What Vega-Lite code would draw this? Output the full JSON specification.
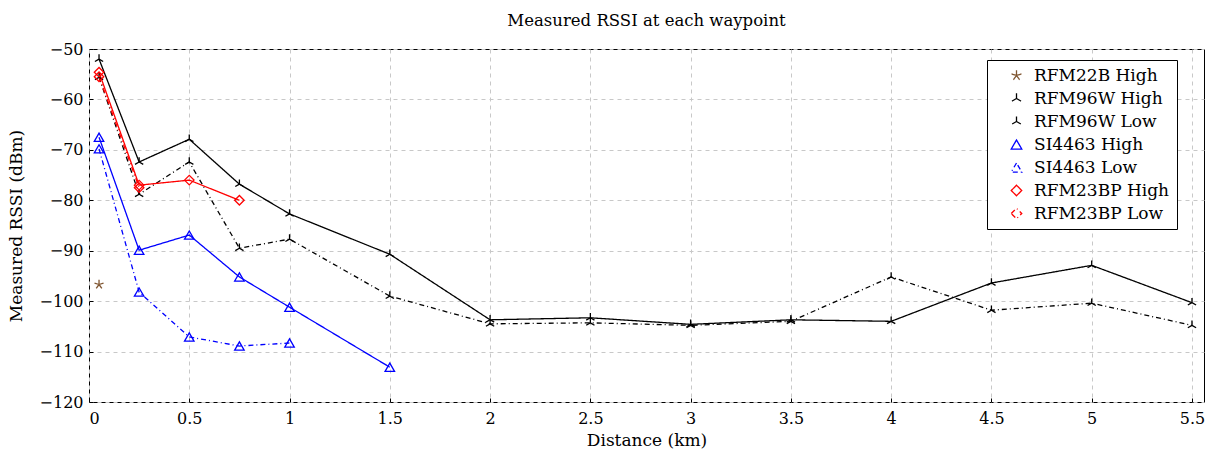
{
  "$schema": "https://vega.github.io/schema/vega-lite/v6.json",
  "width": 1115,
  "height": 353,
  "autosize": {"type": "none"},
  "padding": {"left": 89, "top": 49, "right": 1, "bottom": 48},
  "title": {"text": "Measured RSSI at each waypoint", "font": "DejaVu Serif", "fontSize": 16.5, "fontWeight": "normal", "color": "black", "offset": 12, "anchor": "middle"},
  "config": {
    "view": {"stroke": "black", "strokeWidth": 1},
    "font": "DejaVu Serif",
    "axis": {
      "labelFont": "DejaVu Serif", "titleFont": "DejaVu Serif",
      "labelFontSize": 16, "titleFontSize": 17, "titleFontWeight": "normal",
      "labelColor": "black", "titleColor": "black",
      "grid": true, "gridDash": [4, 4], "gridColor": "#c8c8c8", "gridWidth": 1,
      "domain": false, "tickColor": "black", "tickSize": -4
    }
  },
  "data": {"values": [
    {"series": "RFM22B High", "d": 0.05, "rssi": -96.7},
    {"series": "RFM96W High", "d": 0.05, "rssi": -52},
    {"series": "RFM96W High", "d": 0.25, "rssi": -72.4},
    {"series": "RFM96W High", "d": 0.5, "rssi": -67.9},
    {"series": "RFM96W High", "d": 0.75, "rssi": -76.8},
    {"series": "RFM96W High", "d": 1, "rssi": -82.7},
    {"series": "RFM96W High", "d": 1.5, "rssi": -90.7},
    {"series": "RFM96W High", "d": 2, "rssi": -103.7},
    {"series": "RFM96W High", "d": 2.5, "rssi": -103.3},
    {"series": "RFM96W High", "d": 3, "rssi": -104.6},
    {"series": "RFM96W High", "d": 3.5, "rssi": -103.7},
    {"series": "RFM96W High", "d": 4, "rssi": -104},
    {"series": "RFM96W High", "d": 4.5, "rssi": -96.4},
    {"series": "RFM96W High", "d": 5, "rssi": -92.9},
    {"series": "RFM96W High", "d": 5.5, "rssi": -100.3},
    {"series": "RFM96W Low", "d": 0.05, "rssi": -55.6},
    {"series": "RFM96W Low", "d": 0.25, "rssi": -78.8},
    {"series": "RFM96W Low", "d": 0.5, "rssi": -72.4},
    {"series": "RFM96W Low", "d": 0.75, "rssi": -89.5},
    {"series": "RFM96W Low", "d": 1, "rssi": -87.7},
    {"series": "RFM96W Low", "d": 1.5, "rssi": -99},
    {"series": "RFM96W Low", "d": 2, "rssi": -104.5},
    {"series": "RFM96W Low", "d": 2.5, "rssi": -104.3},
    {"series": "RFM96W Low", "d": 3, "rssi": -104.8},
    {"series": "RFM96W Low", "d": 3.5, "rssi": -104},
    {"series": "RFM96W Low", "d": 4, "rssi": -95.2},
    {"series": "RFM96W Low", "d": 4.5, "rssi": -101.8},
    {"series": "RFM96W Low", "d": 5, "rssi": -100.4},
    {"series": "RFM96W Low", "d": 5.5, "rssi": -104.8},
    {"series": "SI4463 High", "d": 0.05, "rssi": -67.5},
    {"series": "SI4463 High", "d": 0.25, "rssi": -89.9},
    {"series": "SI4463 High", "d": 0.5, "rssi": -86.9},
    {"series": "SI4463 High", "d": 0.75, "rssi": -95.2},
    {"series": "SI4463 High", "d": 1, "rssi": -101.2},
    {"series": "SI4463 High", "d": 1.5, "rssi": -113.1},
    {"series": "SI4463 Low", "d": 0.05, "rssi": -69.8},
    {"series": "SI4463 Low", "d": 0.25, "rssi": -98.2},
    {"series": "SI4463 Low", "d": 0.5, "rssi": -107.1},
    {"series": "SI4463 Low", "d": 0.75, "rssi": -108.9},
    {"series": "SI4463 Low", "d": 1, "rssi": -108.3},
    {"series": "RFM23BP High", "d": 0.05, "rssi": -54.6},
    {"series": "RFM23BP High", "d": 0.25, "rssi": -77},
    {"series": "RFM23BP High", "d": 0.5, "rssi": -76},
    {"series": "RFM23BP High", "d": 0.75, "rssi": -80},
    {"series": "RFM23BP Low", "d": 0.05, "rssi": -55.5},
    {"series": "RFM23BP Low", "d": 0.25, "rssi": -77.5}
  ]},
  "encoding": {
    "x": {"field": "d", "type": "quantitative", "title": "Distance (km)",
      "scale": {"domain": [0, 5.56], "nice": false, "zero": false},
      "axis": {"values": [0, 0.5, 1, 1.5, 2, 2.5, 3, 3.5, 4, 4.5, 5, 5.5], "format": "~g", "labelPadding": 12, "titlePadding": 6}},
    "y": {"field": "rssi", "type": "quantitative", "title": "Measured RSSI (dBm)",
      "scale": {"domain": [-120, -50], "nice": false, "zero": false},
      "axis": {"values": [-120, -110, -100, -90, -80, -70, -60, -50], "labelPadding": 10, "titlePadding": 14}}
  },
  "layer": [
    {
      "mark": {"type": "line", "strokeWidth": 1.3},
      "encoding": {
        "color": {"field": "series", "type": "nominal", "title": null,
          "sort": ["RFM22B High", "RFM96W High", "RFM96W Low", "SI4463 High", "SI4463 Low", "RFM23BP High", "RFM23BP Low"],
          "scale": {"domain": ["RFM22B High", "RFM96W High", "RFM96W Low", "SI4463 High", "SI4463 Low", "RFM23BP High", "RFM23BP Low"],
            "range": ["#7f5530", "black", "black", "#0000ff", "#0000ff", "#ff0000", "#ff0000"]},
          "legend": {"orient": "none", "legendX": 898, "legendY": 11, "strokeColor": "black", "fillColor": "white", "padding": 7,
            "labelFont": "DejaVu Serif", "labelFontSize": 17, "labelColor": "black", "symbolSize": 110, "symbolStrokeWidth": 1.3, "rowPadding": 5, "symbolOffset": 14, "labelOffset": 9, "symbolFillColor": "transparent"}},
        "strokeDash": {"field": "series", "type": "nominal", "title": null,
          "scale": {"domain": ["RFM22B High", "RFM96W High", "RFM96W Low", "SI4463 High", "SI4463 Low", "RFM23BP High", "RFM23BP Low"],
            "range": [[1, 0], [1, 0], [5, 3, 1, 3], [1, 0], [5, 3, 1, 3], [1, 0], [5, 3, 1, 3]]},
          "legend": null}
      }
    },
    {
      "mark": {"type": "point", "filled": false, "size": 90, "strokeWidth": 1.3, "opacity": 1},
      "encoding": {
        "color": {"field": "series", "type": "nominal", "title": null},
        "shape": {"field": "series", "type": "nominal", "title": null,
          "scale": {"domain": ["RFM22B High", "RFM96W High", "RFM96W Low", "SI4463 High", "SI4463 Low", "RFM23BP High", "RFM23BP Low"],
            "range": ["M0,0L0,-1M0,0L0.95,-0.31M0,0L0.59,0.81M0,0L-0.59,0.81M0,0L-0.95,-0.31", "M0,0L0,-1M0,0L-0.87,0.5M0,0L0.87,0.5", "M0,0L0,-1M0,0L-0.87,0.5M0,0L0.87,0.5", "triangle-up", "triangle-up", "diamond", "diamond"]}}
      }
    }
  ]
}
